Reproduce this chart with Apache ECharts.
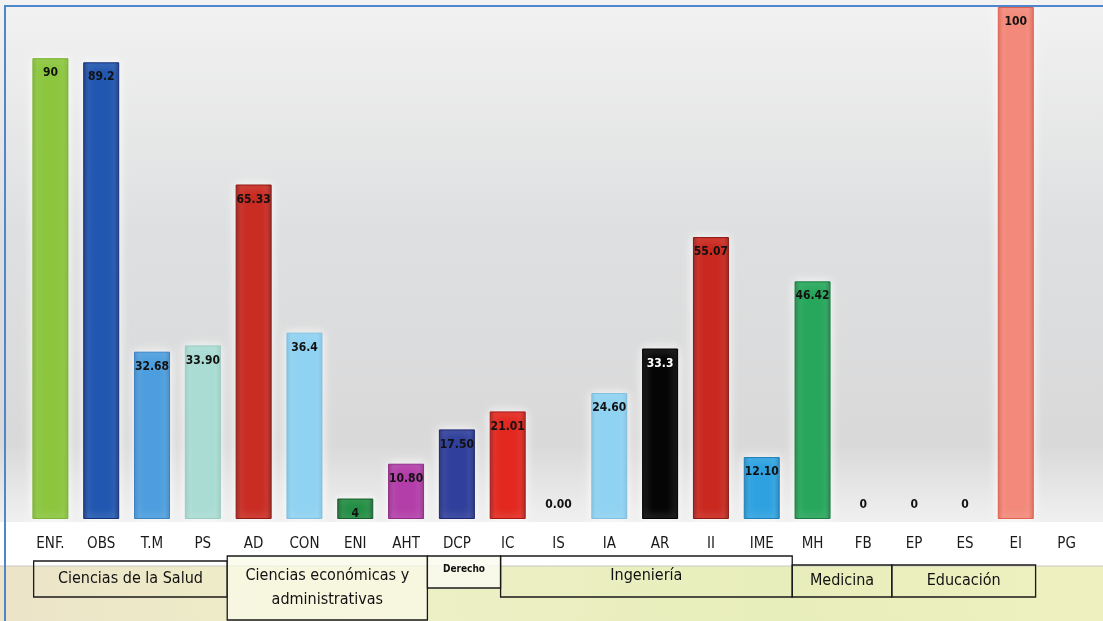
<!DOCTYPE html>
<html>
<head>
<meta charset="utf-8">
<script src="https://cdn.jsdelivr.net/npm/echarts@6/dist/echarts.min.js"></script>
<style>
html,body{margin:0;padding:0;background:#fff;}
#chart{width:1103px;height:621px;}
</style>
</head>
<body>
<div id="chart"></div>
<script>
// ---- data ----
var categories = ['ENF.','OBS','T.M','PS','AD','CON','ENI','AHT','DCP','IC','IS','IA','AR','II','IME','MH','FB','EP','ES','EI','PG'];
var values = [90, 89.2, 32.68, 33.90, 65.33, 36.4, 4, 10.80, 17.50, 21.01, 0, 24.60, 33.3, 55.07, 12.10, 46.42, 0, 0, 0, 100, null];
var valueLabels = ['90','89.2','32.68','33.90','65.33','36.4','4','10.80','17.50','21.01','0.00','24.60','33.3','55.07','12.10','46.42','0','0','0','100',''];
var barColors = ['#8cc63e','#2157b0','#4d9ede','#a9dcd3','#c92c23','#8fd2f2','#1f8c40','#b33ea9','#2f3f9b','#e2281f','#cccccc','#8fd2f2','#050505','#c9281f','#2ea2e0','#27a75c','#cccccc','#cccccc','#cccccc','#f2897a','#cccccc'];
var borderColors = ['#7ab232','#13307a','#3a83c2','#98cbc2','#8e1a14','#7fc0e0','#155e2b','#8e2c85','#1c2670','#a51812','#999','#7fc0e0','#000','#8e1812','#1d7fb8','#1b7d43','#999','#999','#999','#e0604f','#999'];
var groupNames = ['Ciencias de la Salud','Ciencias económicas y\nadministrativas','Derecho','Ingeniería','Medicina','Educación'];
var groupFirst = ['ENF.','AD','DCP','IC','MH','EP'];
var groupLast = ['PS','AHT','DCP','IME','FB','EI'];

// ---- layout (positions/styles only) ----
var groupLayout = [
  {l:-0.33, r:3.48, top:561, bottom:597, fs:16, fw:'normal', fill:'rgba(0,0,0,0)'},
  {l:3.48, r:7.42, top:556, bottom:620, fs:16, fw:'normal', fill:'rgba(250,250,232,0.75)'},
  {l:7.42, r:8.86, top:556, bottom:588, fs:10, fw:'bold', fill:'rgba(250,250,240,0.85)', ty:569},
  {l:8.86, r:14.6, top:556, bottom:597, fs:16, fw:'normal', fill:'rgba(0,0,0,0)', ty:576},
  {l:14.6, r:16.56, top:565, bottom:597, fs:16, fw:'normal', fill:'rgba(0,0,0,0)'},
  {l:16.56, r:19.39, top:565, bottom:597, fs:16, fw:'normal', fill:'rgba(0,0,0,0)'}
];

var FONT = "'DejaVu Sans Condensed','Liberation Sans Narrow','Noto Sans',sans-serif";

var chart = echarts.init(document.getElementById('chart'), null, {renderer:'canvas'});

var barData = values.map(function(v, i){
  var isZero = (v === 0);
  return {
    value: v,
    itemStyle: isZero ? {color:'rgba(0,0,0,0)', borderWidth:0, shadowBlur:0, shadowColor:'rgba(0,0,0,0)'} : {
      color: {type:'linear', x:0, y:0, x2:1, y2:0, colorStops:[
        {offset:0, color: borderColors[i]},
        {offset:0.15, color: barColors[i]},
        {offset:0.85, color: barColors[i]},
        {offset:1, color: borderColors[i]}
      ]},
      borderColor: borderColors[i],
      borderWidth: 1
    },
    label: {
      show: v !== null,
      position: isZero ? 'top' : 'insideTop',
      distance: isZero ? 8 : 9,
      color: (categories[i] === 'AR') ? '#ffffff' : '#111111'
    }
  };
});

var bgGraphics = [
  {type:'rect', z:-10, silent:true, shape:{x:0,y:0,width:1103,height:522},
   style:{fill:{type:'linear',x:0,y:0,x2:0,y2:1,colorStops:[
     {offset:0,color:'#f2f2f2'},{offset:0.45,color:'#dedfe0'},{offset:0.85,color:'#d9d9da'},{offset:1,color:'#f0f0f0'}]}}},
  {type:'rect', z:-10, silent:true, shape:{x:0,y:522,width:1103,height:44}, style:{fill:'#ffffff'}},
  {type:'rect', z:-10, silent:true, shape:{x:0,y:566,width:1103,height:55},
   style:{fill:{type:'linear',x:0,y:0,x2:1,y2:0,colorStops:[
     {offset:0,color:'#ece3c8'},{offset:0.3,color:'#eef0c8'},{offset:0.7,color:'#e8eebb'},{offset:1,color:'#eef0c0'}]}}},
  {type:'line', z:-9, silent:true, shape:{x1:0,y1:566,x2:1103,y2:566}, style:{stroke:'#c8c8c0',lineWidth:1}},
  {type:'rect', z:50, silent:true, shape:{x:5,y:6,width:1110,height:630}, style:{fill:'none',stroke:'#4f85cc',lineWidth:2}}
];

chart.setOption({
  animation: false,
  backgroundColor: '#ffffff',
  grid: {left:25, right:11, top:7, bottom:102, containLabel:false},
  xAxis: {
    type:'category',
    data: categories,
    axisLine:{show:false},
    axisTick:{show:false},
    axisLabel:{color:'#1a1a1a', fontSize:15, fontFamily:FONT, margin:18, interval:0}
  },
  yAxis: {
    type:'value', min:0, max:100, interval:20,
    show:false,
    splitLine:{show:false}
  },
  series: [{
    type:'bar',
    data: barData,
    barWidth: 36,
    itemStyle: {shadowColor:'rgba(255,255,255,0.95)', shadowBlur:10},
    label: {
      fontSize:12, fontWeight:'bold', fontFamily:FONT,
      formatter: function(p){ return valueLabels[p.dataIndex]; }
    }
  }],
  graphic: bgGraphics
});

// group boxes placed via the category axis scale
function catX(idx){
  var p0 = chart.convertToPixel({xAxisIndex:0}, categories[0]);
  var p1 = chart.convertToPixel({xAxisIndex:0}, categories[1]);
  return p0 + (p1 - p0) * idx;
}
var groupGraphics = groupNames.map(function(name, g){
  var L = groupLayout[g];
  var x1 = catX(L.l), x2 = catX(L.r);
  var cy = L.ty !== undefined ? L.ty : (L.top + L.bottom) / 2;
  return {
    type:'group', z:40, silent:true,
    children:[
      {type:'rect', shape:{x:x1, y:L.top, width:x2-x1, height:L.bottom-L.top},
       style:{fill:L.fill, stroke:'#1a1a1a', lineWidth:1.3}},
      {type:'text', x:(x1+x2)/2, y:cy,
       style:{text:name, fill:'#111', font:L.fw+' '+L.fs+'px '+FONT, align:'center', verticalAlign:'middle', lineHeight:L.fs+8}}
    ]
  };
});
chart.setOption({graphic: bgGraphics.concat(groupGraphics)});
</script>
</body>
</html>
